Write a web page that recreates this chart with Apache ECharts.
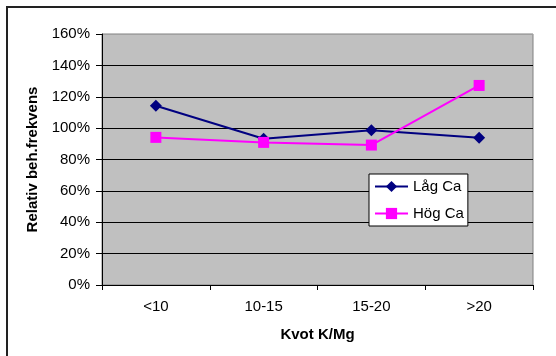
<!DOCTYPE html>
<html>
<head>
<meta charset="utf-8">
<script src="https://cdn.jsdelivr.net/npm/echarts@6/dist/echarts.min.js"></script>
<style>
html,body{margin:0;padding:0;background:#fff;}
#c{width:556px;height:356px;}
</style>
</head>
<body>
<div id="c"></div>
<script>
const categories = ['<10', '10-15', '15-20', '>20'];
const lagCa = [114.3, 93.2, 98.7, 93.8];
const hogCa = [94.1, 90.9, 89.2, 127.2];
const yTicks = [0, 20, 40, 60, 80, 100, 120, 140, 160];

const chart = echarts.init(document.getElementById('c'), null, {renderer: 'canvas'});
const font = '"Liberation Sans", Arial, sans-serif';
const gridColors = yTicks.map((v, i) => i === yTicks.length - 1 ? '#a0a0a0' : '#000000');

chart.setOption({
  animation: false,
  textStyle: {fontFamily: font, color: '#000'},
  graphic: [{
    type: 'rect',
    shape: {x: 7, y: 7, width: 580, height: 380},
    style: {fill: 'none', stroke: '#222', lineWidth: 2},
    silent: true
  }],
  grid: {
    left: 102, top: 34, right: 23, bottom: 71,
    show: true, backgroundColor: '#C0C0C0', borderColor: '#808080', borderWidth: 1
  },
  legend: {
    orient: 'vertical',
    left: 369, top: 174,
    padding: [5, 4, 5, 5],
    itemWidth: 33, itemHeight: 14, itemGap: 12,
    backgroundColor: '#fff', borderColor: '#000', borderWidth: 1,
    textStyle: {fontFamily: font, fontSize: 15, color: '#000'},
    data: ['Låg Ca', 'Hög Ca']
  },
  xAxis: {
    type: 'category',
    data: categories,
    boundaryGap: true,
    axisLine: {lineStyle: {color: '#000', width: 1}},
    axisTick: {show: true, length: 5, lineStyle: {color: '#000'}},
    axisLabel: {margin: 14, fontSize: 15, color: '#000', fontFamily: font},
    name: 'Kvot K/Mg',
    nameLocation: 'middle',
    nameGap: 42,
    nameTextStyle: {fontWeight: 'bold', fontSize: 15, color: '#000', fontFamily: font}
  },
  yAxis: {
    type: 'value',
    min: 0, max: 160, interval: 20,
    axisLine: {show: true, lineStyle: {color: '#000', width: 1}},
    axisTick: {show: true, length: 6, lineStyle: {color: '#000'}},
    axisLabel: {margin: 12, fontSize: 15, color: '#000', fontFamily: font, formatter: '{value}%'},
    splitLine: {show: true, lineStyle: {color: gridColors, width: 1}},
    name: 'Relativ beh.frekvens',
    nameLocation: 'middle',
    nameGap: 60,
    nameTextStyle: {fontWeight: 'bold', fontSize: 15, color: '#000', fontFamily: font}
  },
  series: [
    {
      name: 'Låg Ca', type: 'line', data: lagCa,
      symbol: 'diamond', symbolSize: 12,
      lineStyle: {color: '#000080', width: 2},
      itemStyle: {color: '#000080'}
    },
    {
      name: 'Hög Ca', type: 'line', data: hogCa,
      symbol: 'rect', symbolSize: 11,
      lineStyle: {color: '#FF00FF', width: 2},
      itemStyle: {color: '#FF00FF'}
    }
  ]
});
</script>
</body>
</html>
